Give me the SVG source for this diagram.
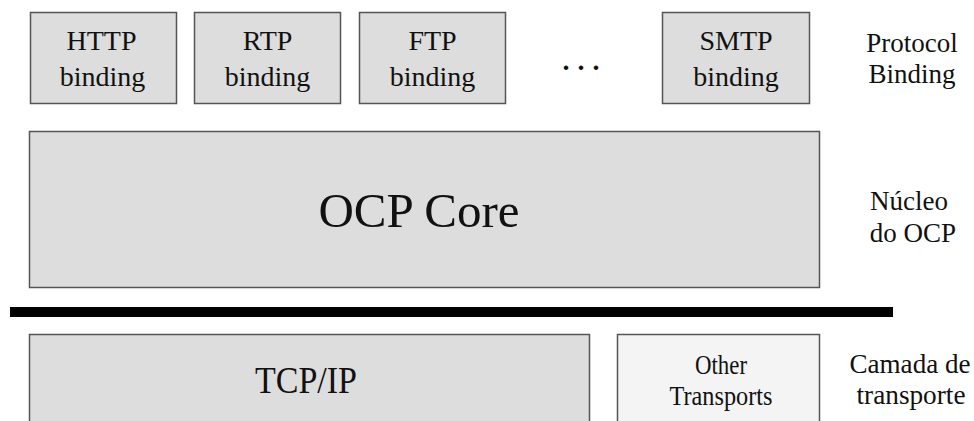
<svg xmlns="http://www.w3.org/2000/svg" width="974" height="421" viewBox="0 0 974 421">
  <defs>
    <style>
      .box { fill: #dddddd; stroke: #555555; stroke-width: 1.5; }
      .box-light { fill: #f4f4f4; stroke: #555555; stroke-width: 1.5; }
    </style>
  </defs>
  <rect width="974" height="421" fill="#ffffff"/>

  <g font-family="Liberation Serif" fill="#111111" text-anchor="middle">
    <!-- protocol bindings -->
    <g id="http-binding">
      <rect class="box" x="30.5" y="12.5" width="146" height="91"/>
      <text x="101.5" y="50" font-size="28">HTTP</text>
      <text x="102.5" y="86" font-size="28">binding</text>
    </g>
    <g id="rtp-binding">
      <rect class="box" x="194.5" y="12.5" width="146" height="91"/>
      <text x="267.5" y="50" font-size="28">RTP</text>
      <text x="267.5" y="86" font-size="28">binding</text>
    </g>
    <g id="ftp-binding">
      <rect class="box" x="359.5" y="12.5" width="146" height="91"/>
      <text x="432.5" y="50" font-size="28">FTP</text>
      <text x="432.5" y="86" font-size="28">binding</text>
    </g>
    <g id="more-bindings">
      <text x="585" y="70" font-size="28" letter-spacing="8" font-weight="bold">...</text>
    </g>
    <g id="smtp-binding">
      <rect class="box" x="662.5" y="12.5" width="147" height="91"/>
      <text x="736" y="50" font-size="28">SMTP</text>
      <text x="736" y="86" font-size="28">binding</text>
    </g>
    <g id="label-binding">
      <text x="912" y="52" font-size="27">Protocol</text>
      <text x="912" y="83" font-size="27">Binding</text>
    </g>

    <!-- core -->
    <g id="ocp-core">
      <rect class="box" x="29.5" y="131.5" width="790" height="156"/>
      <text x="419" y="227" font-size="49">OCP Core</text>
    </g>
    <g id="label-core">
      <text x="909" y="210" font-size="27">Núcleo</text>
      <text x="913" y="242" font-size="27">do OCP</text>
    </g>

    <!-- separator -->
    <g id="connectors">
      <rect x="10" y="307" width="883" height="10" fill="#000000"/>
    </g>

    <!-- transport layer -->
    <g id="tcp-ip">
      <rect class="box" x="29.5" y="334.5" width="560" height="100"/>
      <text x="306" y="393" font-size="37" textLength="102" lengthAdjust="spacingAndGlyphs">TCP/IP</text>
    </g>
    <g id="other-transports">
      <rect class="box-light" x="617.5" y="334.5" width="202" height="100"/>
      <text x="721" y="374" font-size="28" textLength="52" lengthAdjust="spacingAndGlyphs">Other</text>
      <text x="721" y="405" font-size="28" textLength="103" lengthAdjust="spacingAndGlyphs">Transports</text>
    </g>
    <g id="label-transport">
      <text x="910" y="373" font-size="28" textLength="121" lengthAdjust="spacingAndGlyphs">Camada de</text>
      <text x="911" y="404" font-size="28" textLength="109" lengthAdjust="spacingAndGlyphs">transporte</text>
    </g>
  </g>
</svg>
